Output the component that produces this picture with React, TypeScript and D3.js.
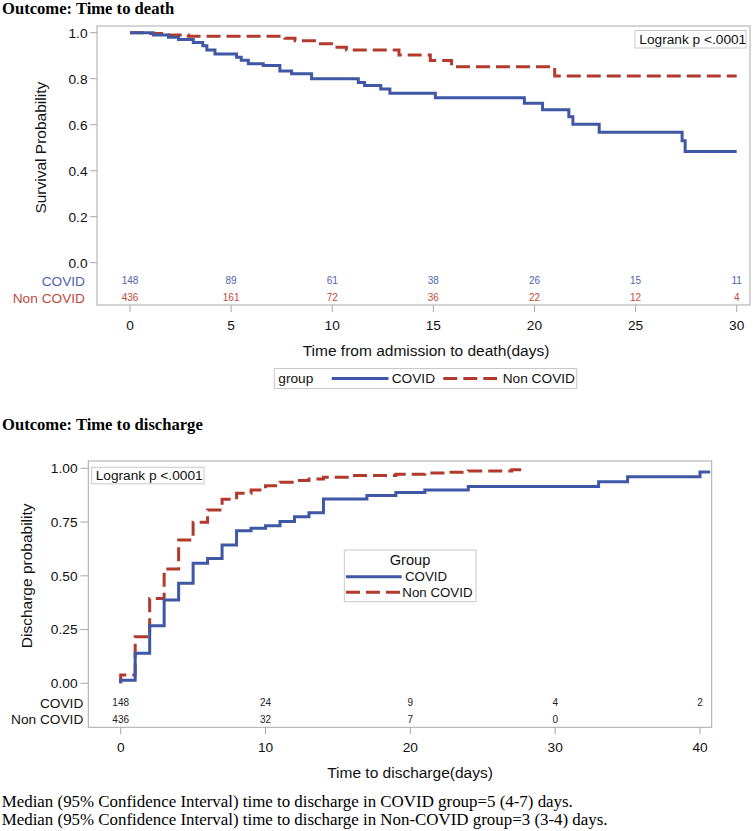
import React from "react";
import * as d3 from "d3";

// ---------- DATA ----------
// Time to death (Kaplan-Meier survival)
const deathCovidTime = [0, 1.15, 1.9, 2.4, 3.13, 3.6, 3.8, 4.2, 5.27, 5.5, 5.85, 6.59, 7.41, 7.99, 8.98, 11.29, 11.6, 12.4, 12.85, 15.1, 19.5, 20.4, 21.7, 21.9, 23.2, 27.3, 27.45, 30];
const deathCovidSurv = [1.0, 0.99, 0.98, 0.97, 0.957, 0.943, 0.925, 0.907, 0.893, 0.88, 0.865, 0.857, 0.833, 0.822, 0.8, 0.784, 0.77, 0.755, 0.737, 0.717, 0.693, 0.665, 0.635, 0.602, 0.567, 0.53, 0.484, 0.484];
const deathNonCovidTime = [0, 0.9, 1.73, 2.88, 7.66, 8.16, 9.31, 10.1, 10.7, 13.3, 14.85, 15.9, 21.0, 30];
const deathNonCovidSurv = [1.0, 0.996, 0.99, 0.985, 0.976, 0.965, 0.952, 0.937, 0.925, 0.903, 0.879, 0.852, 0.812, 0.812];
const deathAtRiskTimes = [0, 5, 10, 15, 20, 25, 30];
const deathCovidAtRisk = [148, 89, 61, 38, 26, 15, 11];
const deathNonCovidAtRisk = [436, 161, 72, 36, 22, 12, 4];
const deathXTicks = [0, 5, 10, 15, 20, 25, 30];
const deathYTicks = [0, 0.2, 0.4, 0.6, 0.8, 1.0];

// Time to discharge (cumulative incidence)
const dischCovidTime = [0, 0, 1, 2, 3, 4, 5, 6, 7, 8, 9, 10, 11, 12, 13, 14, 17, 19, 21, 24, 33, 35, 40, 40.7];
const dischCovidProb = [0, 0.014, 0.14, 0.268, 0.387, 0.465, 0.558, 0.581, 0.643, 0.71, 0.721, 0.733, 0.752, 0.775, 0.793, 0.857, 0.873, 0.887, 0.899, 0.915, 0.938, 0.961, 0.983, 0.983];
const dischNonCovidTime = [0, 0, 1, 2, 3, 4, 5, 6, 7, 8, 9, 10, 11, 12, 13, 14, 16, 19, 21, 22.6, 24, 27, 28];
const dischNonCovidProb = [0, 0.039, 0.217, 0.395, 0.532, 0.667, 0.749, 0.806, 0.856, 0.884, 0.899, 0.919, 0.935, 0.943, 0.95, 0.958, 0.966, 0.972, 0.978, 0.982, 0.988, 0.993, 0.993];
const dischAtRiskTimes = [0, 10, 20, 30, 40];
const dischCovidAtRisk = [148, 24, 9, 4, 2];
const dischNonCovidAtRisk: (number | null)[] = [436, 32, 7, 0, null];
const dischXTicks = [0, 10, 20, 30, 40];
const dischYTicks = [0, 0.25, 0.5, 0.75, 1.0];

const groups = ["COVID", "Non COVID"];

// ---------- STYLE ----------
const BLUE = "#3f57a5";
const RED = "#b23a2d";
const BLUE_T = "#4d63b3";
const RED_T = "#bf4a3c";
const AXIS = "#a9a9a9";
const SANS = "'Liberation Sans', Arial, sans-serif";
const SERIF = "'Liberation Serif', 'Times New Roman', serif";

type P = [number, number];
const zip = (t: number[], v: number[]): P[] => t.map((x, i) => [x, v[i]]);

export default function App() {
  // top chart scales
  const xT = d3.scaleLinear().domain([0, 30]).range([130, 736.7]);
  const yT = d3.scaleLinear().domain([0, 1]).range([262.7, 32.7]);
  const lineT = d3
    .line<P>()
    .x((d) => xT(d[0]))
    .y((d) => yT(d[1]))
    .curve(d3.curveStepAfter);

  // bottom chart scales
  const xB = d3.scaleLinear().domain([0, 40]).range([120.7, 700]);
  const yB = d3.scaleLinear().domain([0, 1]).range([683.3, 468.3]);
  const lineB = d3
    .line<P>()
    .x((d) => xB(d[0]))
    .y((d) => yB(d[1]))
    .curve(d3.curveStepAfter);

  const topFrame = { x0: 97, x1: 750, y0: 26, y1: 305 };
  const botFrame = { x0: 88.3, x1: 711.7, y0: 461, y1: 727.3 };

  return (
    <svg
      width={756}
      height={831}
      viewBox="0 0 756 831"
      style={{ position: "absolute", left: 0, top: 0, background: "#fff" }}
    >
      <rect x={0} y={0} width={756} height={831} fill="#fff" />

      {/* ================= TOP CHART ================= */}
      <text x={2} y={13.8} fontFamily={SERIF} fontWeight="bold" fontSize={16.6} fill="#000">
        Outcome: Time to death
      </text>

      <rect
        x={topFrame.x0}
        y={topFrame.y0}
        width={topFrame.x1 - topFrame.x0}
        height={topFrame.y1 - topFrame.y0}
        fill="none"
        stroke={AXIS}
        strokeWidth={1}
      />

      {/* y ticks */}
      {deathYTicks.map((v) => (
        <g key={"yt" + v}>
          <line x1={90} x2={topFrame.x0} y1={yT(v)} y2={yT(v)} stroke={AXIS} />
          <text x={87.5} y={yT(v) + 4.9} textAnchor="end" fontFamily={SANS} fontSize={13.7} fill="#111">
            {d3.format(".1f")(v)}
          </text>
        </g>
      ))}
      <text
        transform={`translate(45.5,${yT(0.5)}) rotate(-90)`}
        textAnchor="middle"
        fontFamily={SANS}
        fontSize={15.5}
        fill="#111"
      >
        Survival Probability
      </text>

      {/* x ticks */}
      {deathXTicks.map((v) => (
        <g key={"xt" + v}>
          <line x1={xT(v)} x2={xT(v)} y1={topFrame.y1} y2={topFrame.y1 + 7} stroke={AXIS} />
          <text x={xT(v)} y={330} textAnchor="middle" fontFamily={SANS} fontSize={13.7} fill="#111">
            {v}
          </text>
        </g>
      ))}
      <text x={426} y={355.5} textAnchor="middle" fontFamily={SANS} fontSize={15.5} fill="#111">
        Time from admission to death(days)
      </text>

      {/* at risk */}
      <text x={85} y={285.7} textAnchor="end" fontFamily={SANS} fontSize={13.7} fill={BLUE_T}>
        {groups[0]}
      </text>
      <text x={85} y={302.6} textAnchor="end" fontFamily={SANS} fontSize={13.7} fill={RED_T}>
        {groups[1]}
      </text>
      {deathAtRiskTimes.map((t, i) => (
        <g key={"ar" + t}>
          <text x={xT(t)} y={284.4} textAnchor="middle" fontFamily={SANS} fontSize={10} fill={BLUE_T}>
            {deathCovidAtRisk[i]}
          </text>
          <text x={xT(t)} y={301.4} textAnchor="middle" fontFamily={SANS} fontSize={10} fill={RED_T}>
            {deathNonCovidAtRisk[i]}
          </text>
        </g>
      ))}

      {/* curves */}
      <path d={lineT(zip(deathNonCovidTime, deathNonCovidSurv)) || ""} fill="none" stroke={RED} strokeWidth={3} strokeDasharray="14 6" />
      <path d={lineT(zip(deathCovidTime, deathCovidSurv)) || ""} fill="none" stroke={BLUE} strokeWidth={3} />

      {/* logrank box */}
      <rect x={635} y={30.5} width={111} height={17.5} fill="#fff" stroke="#c8c8c8" />
      <text x={639.3} y={44.2} fontFamily={SANS} fontSize={13.7} fill="#111">
        Logrank p &lt;.0001
      </text>

      {/* legend */}
      <rect x={274.3} y={368.5} width={302.4} height={20} fill="#fff" stroke="#c8c8c8" />
      <text x={278.3} y={383.2} fontFamily={SANS} fontSize={13.7} fill="#111">
        group
      </text>
      <line x1={331.7} x2={388.5} y1={378.5} y2={378.5} stroke={BLUE} strokeWidth={3} />
      <text x={391.7} y={383.2} fontFamily={SANS} fontSize={13.7} fill="#111">
        {groups[0]}
      </text>
      <line x1={443.3} x2={497} y1={378.5} y2={378.5} stroke={RED} strokeWidth={3} strokeDasharray="14 6" />
      <text x={502.7} y={383.2} fontFamily={SANS} fontSize={13.7} fill="#111">
        {groups[1]}
      </text>

      {/* ================= BOTTOM CHART ================= */}
      <text x={2} y={429.5} fontFamily={SERIF} fontWeight="bold" fontSize={16.6} fill="#000">
        Outcome: Time to discharge
      </text>

      <rect
        x={botFrame.x0}
        y={botFrame.y0}
        width={botFrame.x1 - botFrame.x0}
        height={botFrame.y1 - botFrame.y0}
        fill="none"
        stroke={AXIS}
        strokeWidth={1}
      />

      {dischYTicks.map((v) => (
        <g key={"byt" + v}>
          <line x1={80.5} x2={botFrame.x0} y1={yB(v)} y2={yB(v)} stroke={AXIS} />
          <text x={77.5} y={yB(v) + 4.9} textAnchor="end" fontFamily={SANS} fontSize={13.7} fill="#111">
            {d3.format(".2f")(v)}
          </text>
        </g>
      ))}
      <text
        transform={`translate(32,${yB(0.5)}) rotate(-90)`}
        textAnchor="middle"
        fontFamily={SANS}
        fontSize={15.5}
        fill="#111"
      >
        Discharge probability
      </text>

      {dischXTicks.map((v) => (
        <g key={"bxt" + v}>
          <line x1={xB(v)} x2={xB(v)} y1={botFrame.y1} y2={botFrame.y1 + 7} stroke={AXIS} />
          <text x={xB(v)} y={751.6} textAnchor="middle" fontFamily={SANS} fontSize={13.7} fill="#111">
            {v}
          </text>
        </g>
      ))}
      <text x={410} y={778} textAnchor="middle" fontFamily={SANS} fontSize={15.5} fill="#111">
        Time to discharge(days)
      </text>

      <text x={83.3} y={707.6} textAnchor="end" fontFamily={SANS} fontSize={13.7} fill="#111">
        {groups[0]}
      </text>
      <text x={83.3} y={724.2} textAnchor="end" fontFamily={SANS} fontSize={13.7} fill="#111">
        {groups[1]}
      </text>
      {dischAtRiskTimes.map((t, i) => (
        <g key={"bar" + t}>
          <text x={xB(t)} y={706.3} textAnchor="middle" fontFamily={SANS} fontSize={10} fill="#222">
            {dischCovidAtRisk[i]}
          </text>
          {dischNonCovidAtRisk[i] !== null && (
            <text x={xB(t)} y={723} textAnchor="middle" fontFamily={SANS} fontSize={10} fill="#222">
              {dischNonCovidAtRisk[i]}
            </text>
          )}
        </g>
      ))}

      <path d={lineB(zip(dischNonCovidTime, dischNonCovidProb)) || ""} fill="none" stroke={RED} strokeWidth={3} strokeDasharray="14 6" />
      <path d={lineB(zip(dischCovidTime, dischCovidProb)) || ""} fill="none" stroke={BLUE} strokeWidth={3} />

      <rect x={91.7} y={467.3} width={112.3} height={16.5} fill="#fff" stroke="#c8c8c8" />
      <text x={95.7} y={480.3} fontFamily={SANS} fontSize={13.7} fill="#111">
        Logrank p &lt;.0001
      </text>

      {/* Group legend */}
      <rect x={344.3} y={550} width={131.7} height={51.7} fill="#fff" stroke="#c8c8c8" />
      <text x={410} y={565.3} textAnchor="middle" fontFamily={SANS} fontSize={14.6} fill="#111">
        Group
      </text>
      <line x1={346} x2={401.7} y1={576.7} y2={576.7} stroke={BLUE} strokeWidth={3} />
      <text x={405} y={581.2} fontFamily={SANS} fontSize={13.3} fill="#111">
        {groups[0]}
      </text>
      <line x1={346} x2={401.7} y1={592.3} y2={592.3} stroke={RED} strokeWidth={3} strokeDasharray="14 6" />
      <text x={402.3} y={596.8} fontFamily={SANS} fontSize={13.3} fill="#111">
        {groups[1]}
      </text>

      {/* footnotes */}
      <text x={1.7} y={807} fontFamily={SERIF} fontSize={16.9} fill="#000">
        Median (95% Confidence Interval) time to discharge in COVID group=5 (4-7) days.
      </text>
      <text x={1.7} y={825} fontFamily={SERIF} fontSize={16.9} fill="#000">
        Median (95% Confidence Interval) time to discharge in Non-COVID group=3 (3-4) days.
      </text>
    </svg>
  );
}
